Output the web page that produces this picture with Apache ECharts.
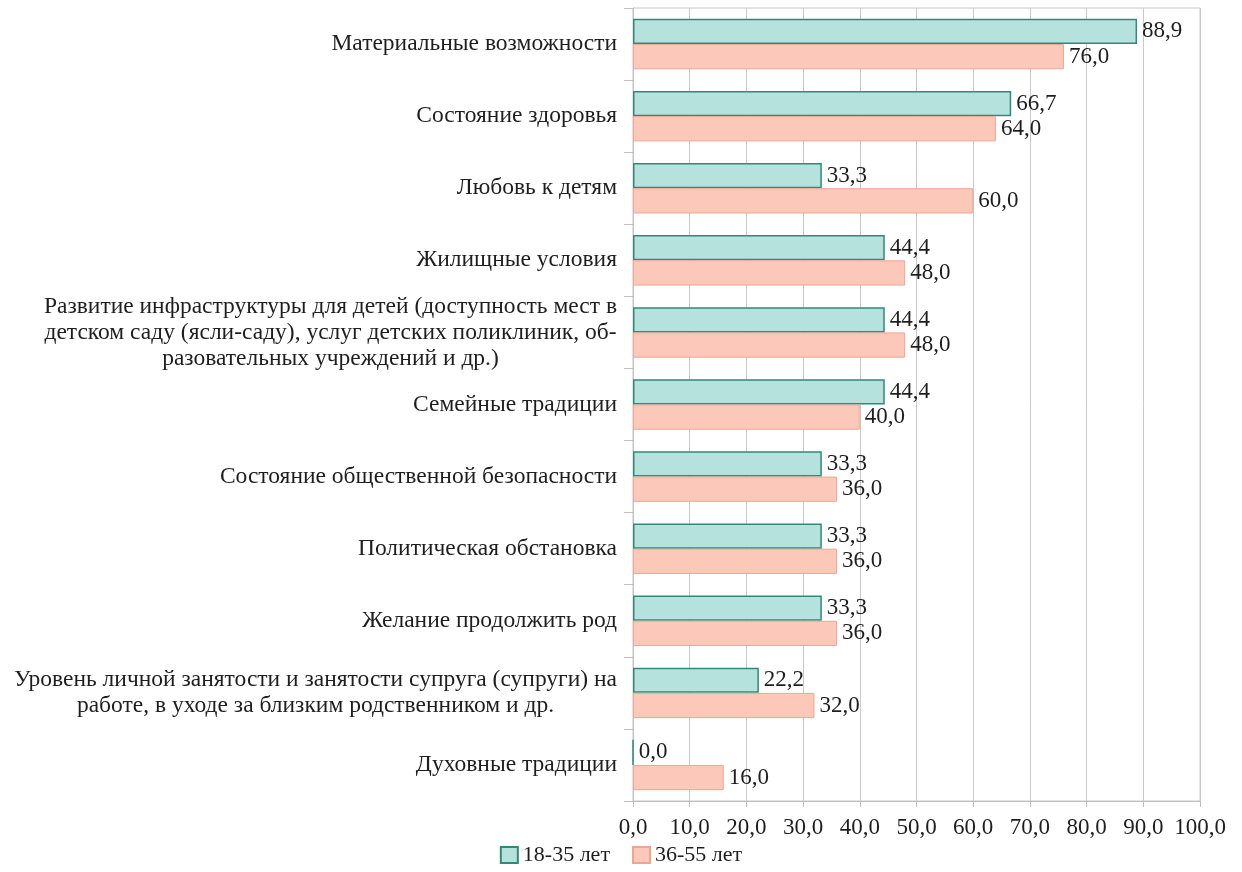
<!DOCTYPE html>
<html>
<head>
<meta charset="utf-8">
<script src="https://cdn.jsdelivr.net/npm/echarts@6/dist/echarts.min.js"></script>
<style>
    html, body { margin: 0; padding: 0; background: #fff; }
    #main { width: 1242px; height: 872px; }
</style>
</head>
<body>
<div id="main"></div>
<script>
    // категории (сверху вниз)
    var categories = [
        'Материальные возможности',
        'Состояние здоровья',
        'Любовь к детям',
        'Жилищные условия',
        'Развитие инфраструктуры для детей (доступность мест в\nдетском саду (ясли-саду), услуг детских поликлиник, об-\nразовательных учреждений и др.)',
        'Семейные традиции',
        'Состояние общественной безопасности',
        'Политическая обстановка',
        'Желание продолжить род',
        'Уровень личной занятости и занятости супруга (супруги) на\nработе, в уходе за близким родственником и др.',
        'Духовные традиции'
    ];
    var young = [88.9, 66.7, 33.3, 44.4, 44.4, 44.4, 33.3, 33.3, 33.3, 22.2, 0.0];
    var older = [76.0, 64.0, 60.0, 48.0, 48.0, 40.0, 36.0, 36.0, 36.0, 32.0, 16.0];
    var seriesNames = ['18-35 лет', '36-55 лет'];

    var font = '"Liberation Serif", "DejaVu Serif", serif';
    var fs = 23;

    function fmt(v) {
        return v.toFixed(1).replace('.', ',');
    }

    var chart = echarts.init(document.getElementById('main'));

    var option = {
        animation: false,
        textStyle: { fontFamily: font, color: '#1e1e1e' },
        grid: {
            left: 633, right: 42, top: 8, bottom: 71,
            show: true, borderColor: '#c8c8c8', borderWidth: 1
        },
        legend: {
            bottom: 1,
            left: 'center',
            itemWidth: 17,
            itemHeight: 16,
            itemGap: 22,
            icon: 'rect',
            textStyle: { fontFamily: font, fontSize: 22, color: '#1e1e1e' },
            data: seriesNames
        },
        xAxis: {
            type: 'value',
            min: 0, max: 100, interval: 10,
            axisLine: { show: true, lineStyle: { color: '#bfbfbf' } },
            axisTick: { show: true, length: 6, lineStyle: { color: '#bfbfbf' } },
            splitLine: { show: true, lineStyle: { color: '#c8c8c8' } },
            axisLabel: {
                fontFamily: font, fontSize: fs, color: '#1e1e1e', margin: 15,
                formatter: function (v) { return fmt(v); }
            }
        },
        yAxis: {
            type: 'category',
            inverse: true,
            data: categories,
            axisLine: { show: true, lineStyle: { color: '#bfbfbf' } },
            axisTick: { show: true, length: 9, lineStyle: { color: '#bfbfbf' } },
            axisLabel: {
                margin: 16,
                fontFamily: font, fontSize: fs, color: '#1e1e1e',
                formatter: function (v) {
                    return v.split('\n').map(function (s) { return '{c|' + s + '}'; }).join('\n');
                },
                rich: {
                    c: { fontFamily: font, fontSize: 23.5, color: '#1e1e1e', align: 'center', lineHeight: 26 }
                }
            }
        },
        series: [{
            name: seriesNames[0],
            type: 'bar',
            data: young,
            barGap: '0%',
            barCategoryGap: '30%',
            itemStyle: { color: '#b5e2dc', borderColor: '#2f8a78', borderWidth: 1.5 },
            label: {
                show: true, position: 'right', distance: 5,
                fontFamily: font, fontSize: fs, color: '#1e1e1e',
                formatter: function (p) { return fmt(p.value); }
            }
        }, {
            name: seriesNames[1],
            type: 'bar',
            data: older,
            barGap: '0%',
            barCategoryGap: '30%',
            itemStyle: { color: '#fcc8ba', borderColor: '#f0a592', borderWidth: 1 },
            label: {
                show: true, position: 'right', distance: 5,
                fontFamily: font, fontSize: fs, color: '#1e1e1e',
                formatter: function (p) { return fmt(p.value); }
            }
        }]
    };
    chart.setOption(option);
</script>
</body>
</html>
